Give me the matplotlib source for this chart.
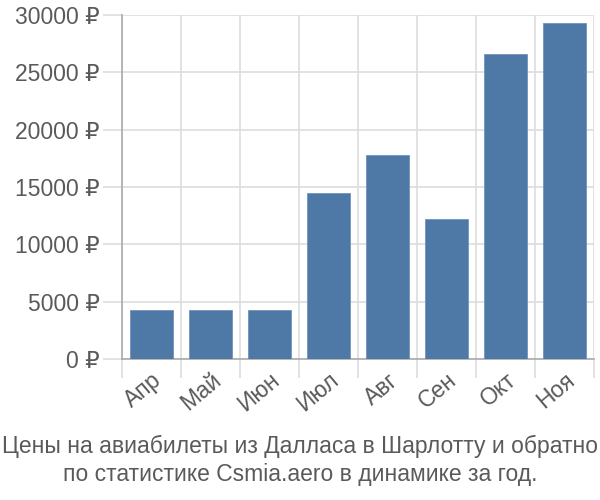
import matplotlib.pyplot as plt
import numpy as np

months = ["Апр", "Май", "Июн", "Июл", "Авг", "Сен", "Окт", "Ноя"]
prices = [4250, 4250, 4250, 14450, 17780, 12200, 26590, 29290]
y_ticks = [0, 5000, 10000, 15000, 20000, 25000, 30000]
title = "Цены на авиабилеты из Далласа в Шарлотту и обратно\nпо статистике Csmia.aero в динамике за год."

def main():
    plt.rcParams['font.family'] = ['Liberation Sans', 'DejaVu Sans']
    text_color = "#5a5a5a"
    grid_color = "#dddddd"

    fig = plt.figure(figsize=(6, 5), dpi=100)
    ax = fig.add_axes([0.2033, 0.282, 0.7867, 0.688])

    x = np.arange(len(months))
    ax.bar(x, prices, width=0.72, color="#4e79a7", edgecolor="#6f93bd", linewidth=0.6, zorder=3)

    ax.set_xlim(-0.5, len(months) - 0.5)
    ax.set_ylim(0, 30000)

    ax.set_yticks(y_ticks)
    ax.set_yticklabels([f"{v} ₽" for v in y_ticks], fontsize=16.5, color=text_color)
    ax.tick_params(axis="y", length=14, width=1.2, color=grid_color, pad=2)

    ax.set_xticks(x)
    ax.set_xticklabels(months, rotation=40, ha="right", rotation_mode="anchor",
                       fontsize=16.5, color=text_color)
    ax.tick_params(axis="x", which="major", length=0, pad=7)
    ax.set_xticks(np.arange(len(months) + 1) - 0.5, minor=True)
    ax.tick_params(axis="x", which="minor", length=14, width=1.2, color=grid_color)

    ax.grid(True, axis="y", color=grid_color, linewidth=1.2, zorder=0)
    ax.grid(True, axis="x", which="minor", color=grid_color, linewidth=1.2, zorder=0)

    for side in ["top", "right"]:
        ax.spines[side].set_visible(False)
    ax.spines["left"].set_color("#aaaaaa")
    ax.spines["left"].set_linewidth(1.2)
    ax.spines["bottom"].set_color("#aaaaaa")
    ax.spines["bottom"].set_linewidth(1.2)

    fig.text(0.5, 0.079, title, ha="center", va="center", fontsize=16.5,
             color=text_color, linespacing=1.25)

    plt.savefig("out.png", dpi=100)

if __name__ == "__main__":
    main()
